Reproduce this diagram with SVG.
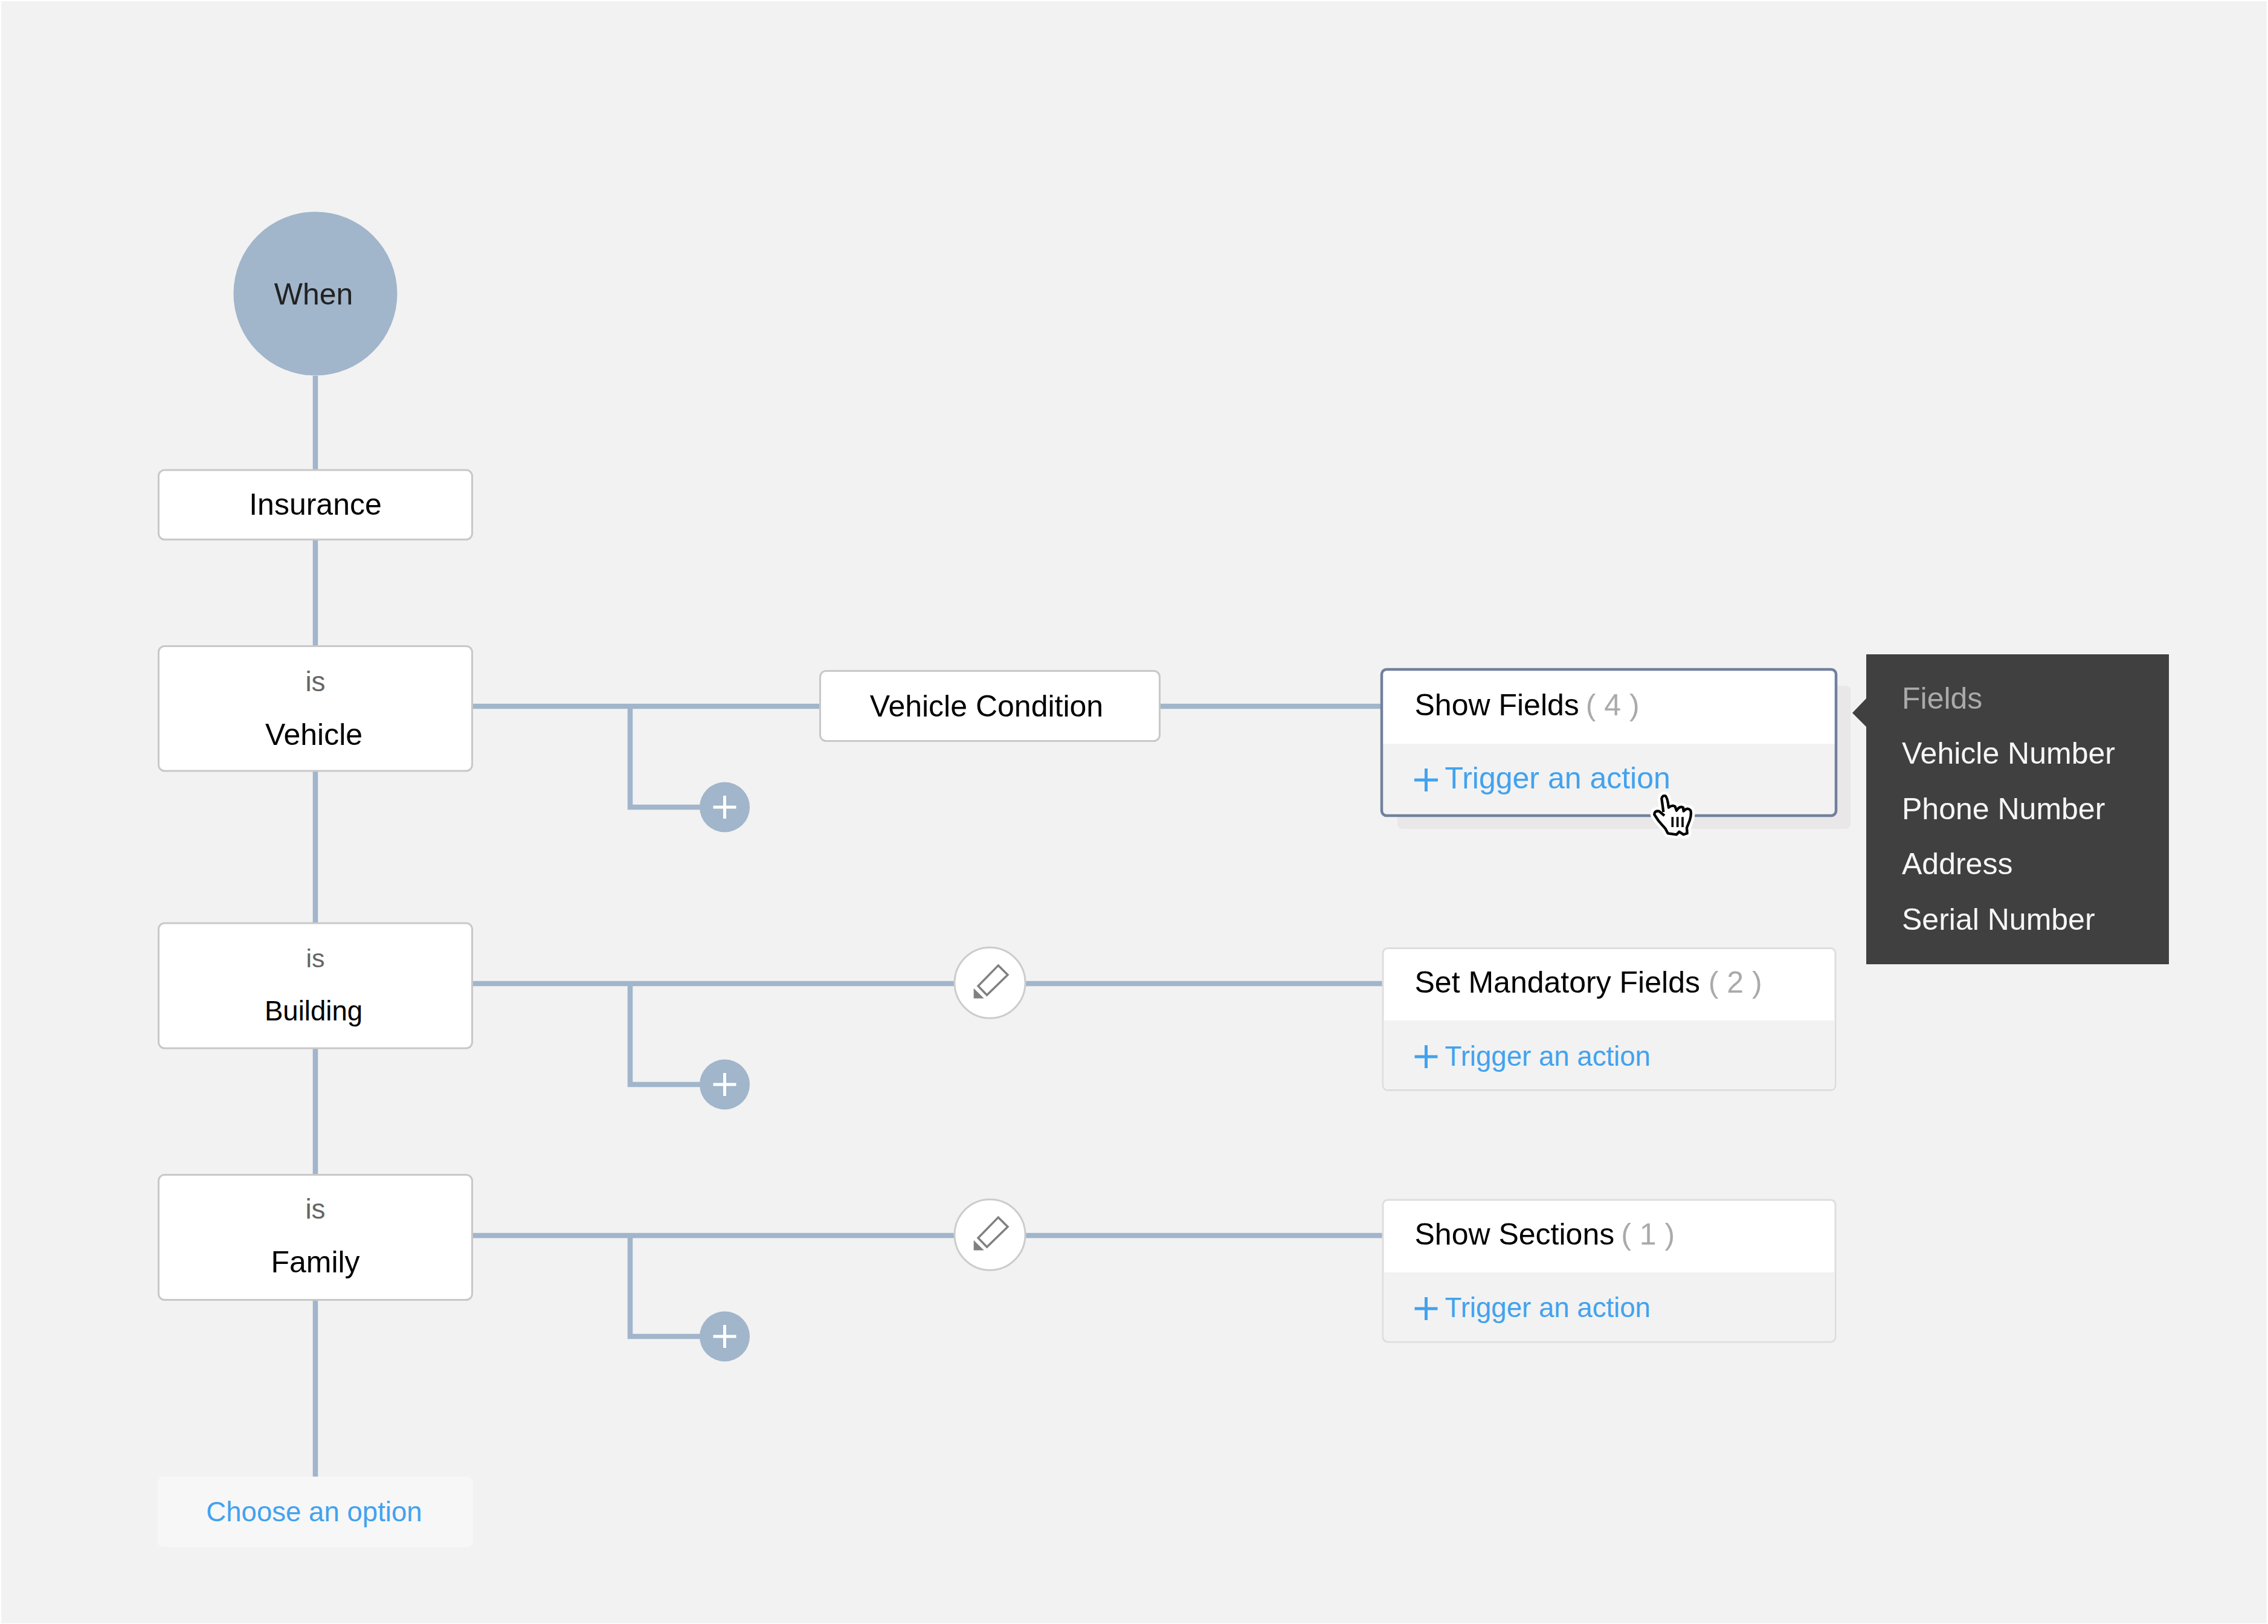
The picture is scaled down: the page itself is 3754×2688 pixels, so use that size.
<svg xmlns="http://www.w3.org/2000/svg" width="3754" height="2688" viewBox="0 0 3754 2688">
<style>
text{font-family:"Liberation Sans",Arial,sans-serif;font-size:50px;fill:#000}
.m{text-anchor:middle}
.is{fill:#666;font-size:46px}
.s{font-size:45.6px}
.blue{fill:#42a2ee}
.cnt{fill:#aaa}
.box{fill:#fff;stroke:#c8c8c8;stroke-width:3}
.card{fill:#fff;stroke:#dedede;stroke-width:3}
.foot{fill:#f2f2f2}
.conn{fill:none;stroke:#a1b5cb;stroke-width:8.5}
.add{fill:#a1b5cb}
.pw{stroke:#fff;stroke-width:5;fill:none}
.pb{stroke:#42a2ee;stroke-width:5;fill:none}
.edit{fill:#fff;stroke:#ccc;stroke-width:3}
.pen{fill:#fff;stroke:#808080;stroke-width:3.5}
.tip{fill:#808080}
.tt{fill:#f6f6f6}
.lbl{fill:#aaa}
</style>
<defs>
<g id="plus"><circle r="41.5" class="add"/><path class="pw" d="M-19 0H19M0-19V19"/></g>
<g id="pencil"><circle r="58.5" class="edit"/><path class="pen" d="M13.900-28.800L29.500-13.100L-5 20.300L-19.500 5.300Z"/><path class="tip" d="M-26.800 9L-9.800 25.800H-26.800Z"/></g>
</defs>
<rect width="3754" height="2688" fill="#fff"/>
<rect x="2" y="2" width="3750" height="2685" fill="#f2f2f2"/>
<g id="connectors">
<path class="conn" d="M522 622V2444"/>
<path class="conn" d="M782 1169H2286M1043 1169V1336H1160"/>
<path class="conn" d="M782 1628H2288M1043 1628V1795H1160"/>
<path class="conn" d="M782 2045H2288M1043 2045V2212H1160"/>
</g>
<g id="when"><circle cx="522" cy="486" r="135.5" fill="#a1b5cb"/><text class="m" x="519" y="504" style="fill:#222">When</text></g>
<g id="insurance"><rect class="box" x="262.500" y="778" width="519" height="115" rx="10"/><text class="m" x="522" y="852">Insurance</text></g>
<g id="is-vehicle"><rect class="box" x="262.500" y="1069.500" width="519" height="206.500" rx="10"/><text class="m is" x="522" y="1144">is</text><text class="m" x="519.500" y="1233">Vehicle</text></g>
<g id="is-building"><rect class="box" x="262.500" y="1528" width="519" height="207" rx="10"/><text class="m is" x="522" y="1601" style="font-size:43px">is</text><text class="m s" x="519" y="1689">Building</text></g>
<g id="is-family"><rect class="box" x="262.500" y="1944.500" width="519" height="207" rx="10"/><text class="m is" x="522" y="2017">is</text><text class="m" x="522" y="2106">Family</text></g>
<g id="choose-option"><rect x="261" y="2444" width="522" height="117" rx="10" fill="#f7f7f7"/><text class="m s blue" x="520" y="2518">Choose an option</text></g>
<g id="vehicle-condition"><rect class="box" x="1357.500" y="1110.500" width="562" height="116" rx="10"/><text class="m" x="1633" y="1185.500">Vehicle Condition</text></g>
<g id="add-1"><use href="#plus" x="1199.500" y="1336"/></g>
<g id="add-2"><use href="#plus" x="1199.500" y="1795"/></g>
<g id="add-3"><use href="#plus" x="1199.500" y="2212"/></g>
<g id="edit-2"><use href="#pencil" x="1638.500" y="1626.700"/></g>
<g id="edit-3"><use href="#pencil" x="1638.500" y="2043.700"/></g>
<g id="card-show-fields">
<rect x="2313" y="1135" width="750" height="237" rx="8" fill="#e9e7e8"/>
<rect x="2287" y="1108" width="752" height="242" rx="8" fill="#fff"/>
<path class="foot" d="M2287 1231H3039V1342a8 8 0 0 1-8 8H2295a8 8 0 0 1-8-8Z"/>
<rect x="2287" y="1108" width="752" height="242" rx="8" fill="none" stroke="#71809c" stroke-width="4.500"/>
<text x="2341.500" y="1184">Show Fields <tspan class="cnt" dx="-3">( 4 )</tspan></text>
<path class="pb" d="M2341 1291H2380M2360.500 1272V1310"/>
<text class="blue" x="2391.500" y="1305">Trigger an action</text>
</g>
<g id="card-mandatory">
<rect class="card" x="2289" y="1569.500" width="749" height="235" rx="8"/>
<path class="foot" d="M2290.500 1689H3036.500V1795a8 8 0 0 1-8 8H2298.500a8 8 0 0 1-8-8Z"/>
<text x="2341.500" y="1643">Set Mandatory Fields <tspan class="cnt">( 2 )</tspan></text>
<path class="pb" d="M2341.500 1749H2379.500M2360.500 1730V1768"/>
<text class="s blue" x="2391.500" y="1763.500">Trigger an action</text>
</g>
<g id="card-sections">
<rect class="card" x="2289" y="1986" width="749" height="235" rx="8"/>
<path class="foot" d="M2290.500 2106H3036.500V2212a8 8 0 0 1-8 8H2298.500a8 8 0 0 1-8-8Z"/>
<text x="2341.500" y="2059.500">Show Sections <tspan class="cnt" dx="-3">( 1 )</tspan></text>
<path class="pb" d="M2341.500 2166H2379.500M2360.500 2147V2185"/>
<text class="s blue" x="2391.500" y="2180">Trigger an action</text>
</g>
<g id="tooltip">
<path fill="#404040" d="M3089 1083H3590V1596H3089V1203L3066 1180L3089 1156Z"/>
<text class="lbl" x="3148" y="1172.500">Fields</text>
<text class="tt" x="3148" y="1264">Vehicle Number</text>
<text class="tt" x="3148" y="1355.500">Phone Number</text>
<text class="tt" x="3148" y="1447">Address</text>
<text class="tt" x="3148" y="1539">Serial Number</text>
</g>
<g id="cursor" transform="translate(2640 1220) scale(.3333)">
<path d="M340 372L331 305Q335 288 350 292Q360 300 366 350Q385 335 398 345L405 365Q420 340 438 350L440 368Q460 345 475 365Q480 385 470 415L456 450L458 478L440 484L418 470L405 484L362 478L350 455L315 415L295 385Q295 365 318 368L345 390" fill="#fff" stroke="#fff" stroke-width="40" stroke-linejoin="round"/>
<path d="M340 372L331 305Q335 288 350 292Q360 300 366 350Q385 335 398 345L405 365Q420 340 438 350L440 368Q460 345 475 365Q480 385 470 415L456 450L458 478L440 484L418 470L405 484L362 478L350 455L315 415L295 385Q295 365 318 368L345 390" fill="#fff" stroke="#000" stroke-width="13" stroke-linejoin="round"/>
<path d="M385 397V447M410 397V447M435 397V447" fill="none" stroke="#000" stroke-width="11"/>
</g>
</svg>
